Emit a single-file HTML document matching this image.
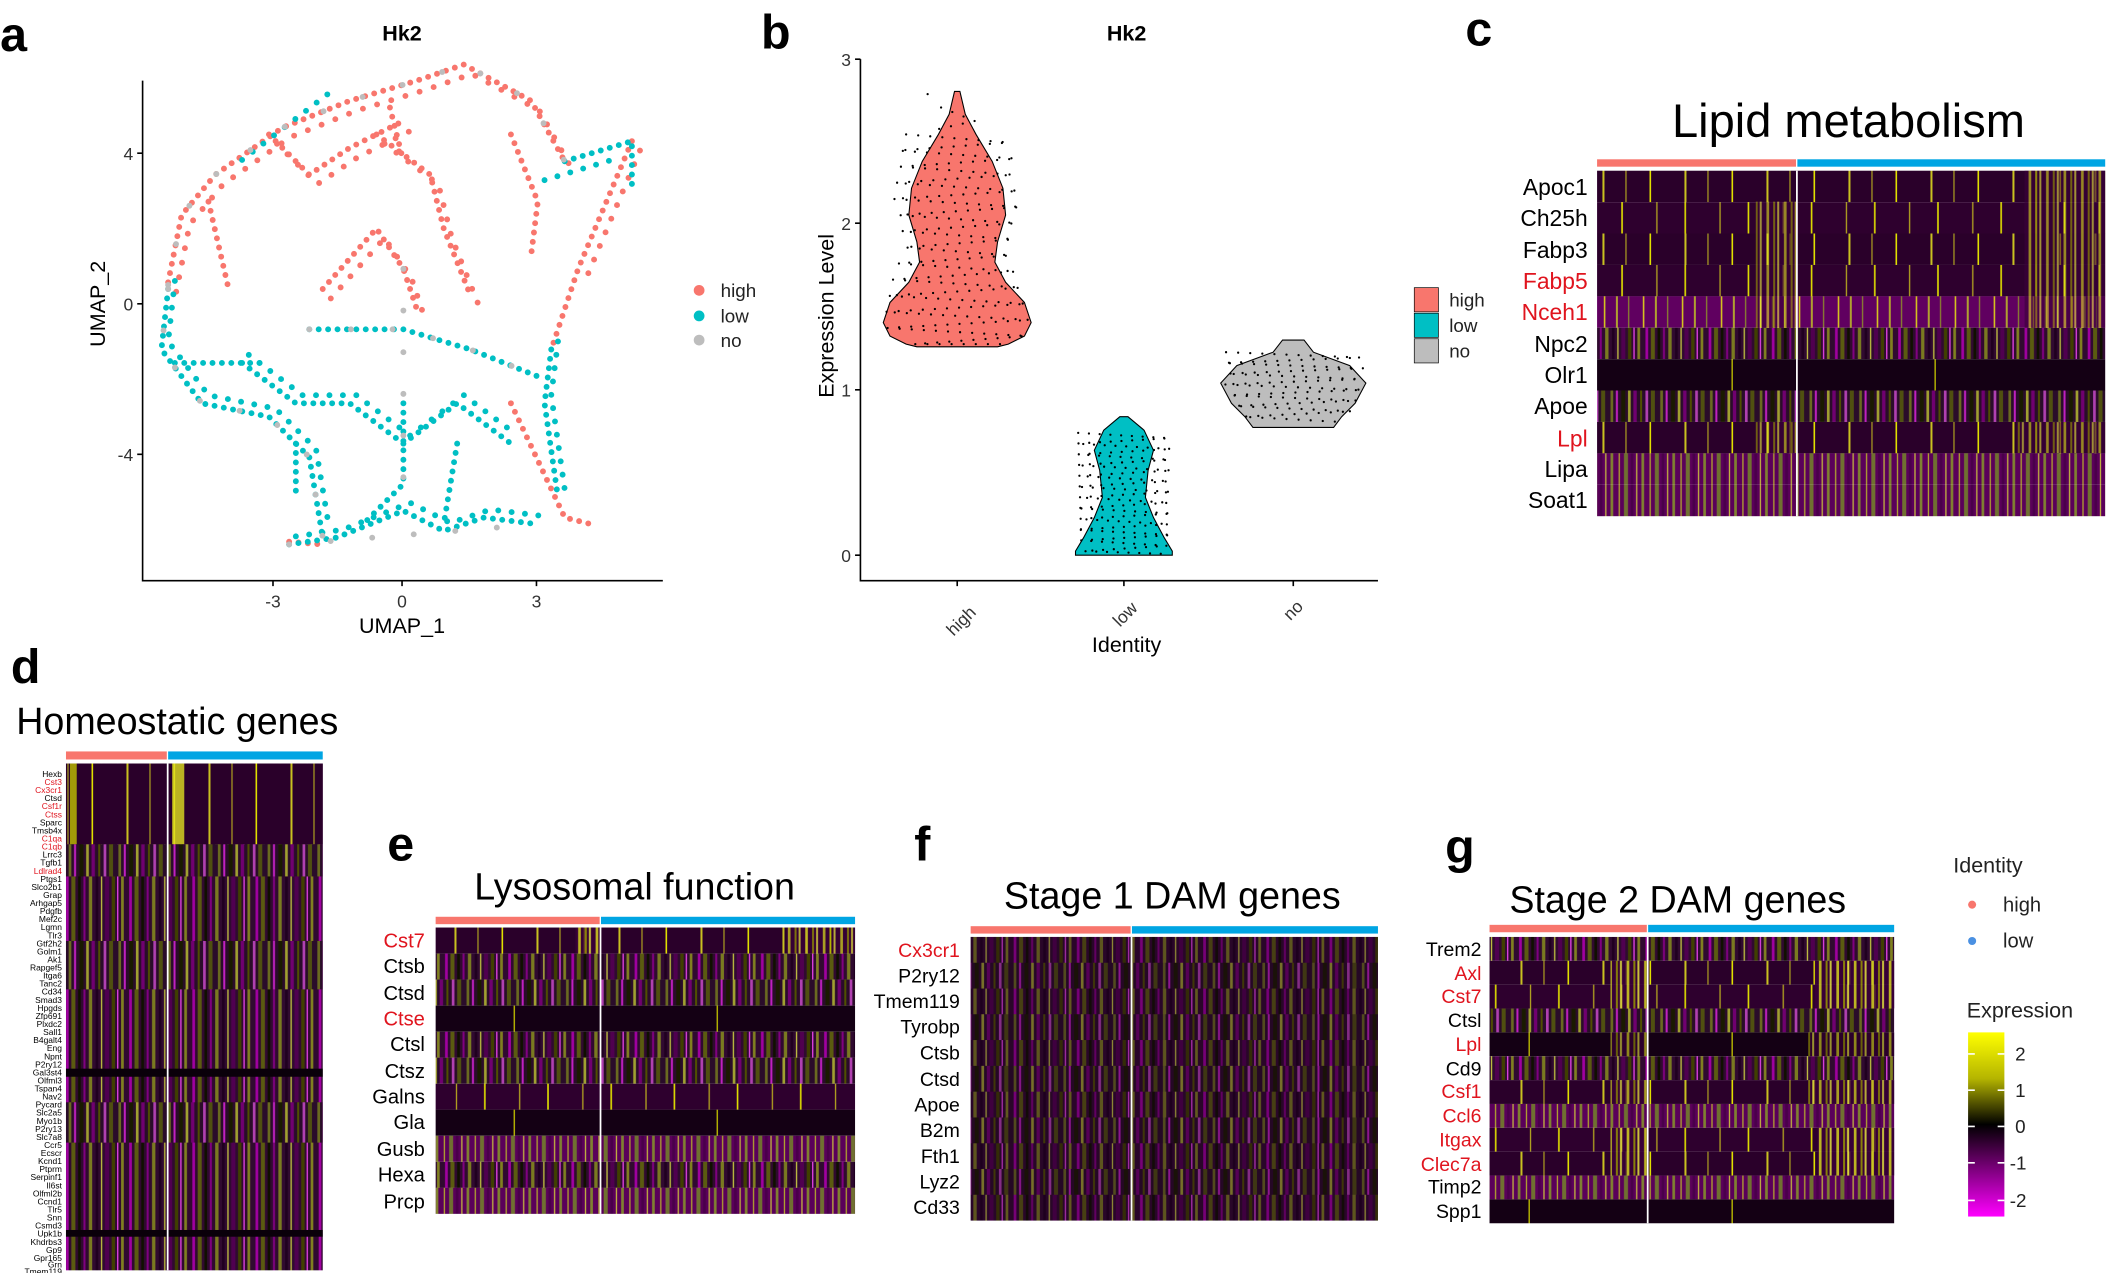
<!DOCTYPE html>
<html><head><meta charset="utf-8"><style>
html,body{margin:0;padding:0;background:#fff;}
svg{display:block;font-family:"Liberation Sans",Arial,sans-serif;}
</style></head><body>
<svg xmlns="http://www.w3.org/2000/svg" width="2108" height="1273" viewBox="0 0 1568 947">
<defs>
<pattern id="pd" patternUnits="userSpaceOnUse" width="61" height="10"><rect width="61" height="10" fill="#2a002a"/><rect x="7" width="1.2" height="10" fill="#e0e000"/><rect x="33" width="1.5" height="10" fill="#c8c020"/><rect x="50" width="1" height="10" fill="#a09020"/></pattern>
<pattern id="pd2" patternUnits="userSpaceOnUse" width="47" height="10" patternTransform="translate(19,0)"><rect width="47" height="10" fill="#2e002e"/><rect x="12" width="1.2" height="10" fill="#e0e000"/><rect x="38" width="1" height="10" fill="#b0a020"/></pattern>
<pattern id="pe" patternUnits="userSpaceOnUse" width="13" height="10"><rect width="13" height="10" fill="#3a003a"/><rect x="1" width="2" height="10" fill="#e0e020"/><rect x="6" width="1.5" height="10" fill="#a0a000"/><rect x="9" width="1.5" height="10" fill="#f0f040"/></pattern>
<pattern id="pm" patternUnits="userSpaceOnUse" width="47" height="10"><rect width="47" height="10" fill="#300a30"/><rect x="2" width="2" height="10" fill="#a000a0"/><rect x="6" width="3" height="10" fill="#5b5b10"/><rect x="11" width="2" height="10" fill="#101000"/><rect x="15" width="1.5" height="10" fill="#800080"/><rect x="19" width="2.5" height="10" fill="#7a7a20"/><rect x="24" width="2" height="10" fill="#200020"/><rect x="28" width="1" height="10" fill="#c0c040"/><rect x="31" width="3" height="10" fill="#500050"/><rect x="36" width="2.5" height="10" fill="#404000"/><rect x="40" width="1" height="10" fill="#e040e0"/><rect x="43" width="2" height="10" fill="#808020"/></pattern>
<pattern id="pm2" patternUnits="userSpaceOnUse" width="37" height="10" patternTransform="translate(13,0)"><rect width="37" height="10" fill="#2a0c2a"/><rect x="1" width="2" height="10" fill="#6a6a20"/><rect x="5" width="1.5" height="10" fill="#c020c0"/><rect x="9" width="3" height="10" fill="#1a1a00"/><rect x="14" width="2" height="10" fill="#a0a030"/><rect x="18" width="2.5" height="10" fill="#700070"/><rect x="23" width="1.5" height="10" fill="#505000"/><rect x="27" width="2" height="10" fill="#b040b0"/><rect x="31" width="3" height="10" fill="#505010"/></pattern>
<pattern id="pp" patternUnits="userSpaceOnUse" width="29" height="10"><rect width="29" height="10" fill="#600060"/><rect x="4" width="1.2" height="10" fill="#d4c020"/><rect x="13" width="1.5" height="10" fill="#b0a030"/><rect x="22" width="1" height="10" fill="#8a8030"/></pattern>
<pattern id="po" patternUnits="userSpaceOnUse" width="23" height="10"><rect width="23" height="10" fill="#5a005a"/><rect x="2" width="2" height="10" fill="#808030"/><rect x="8" width="1" height="10" fill="#b0a030"/><rect x="12" width="3" height="10" fill="#707030"/><rect x="17" width="2" height="10" fill="#4a004a"/><rect x="21" width="1" height="10" fill="#c0b040"/></pattern>
<pattern id="pk" patternUnits="userSpaceOnUse" width="151" height="10"><rect width="151" height="10" fill="#140014"/><rect x="80" width="1" height="10" fill="#c0c000"/></pattern>
<linearGradient id="gr" x1="0" y1="0" x2="0" y2="1">
<stop offset="0" stop-color="#ffff00"/><stop offset="0.25" stop-color="#b5b500"/><stop offset="0.5" stop-color="#000"/><stop offset="0.75" stop-color="#800080"/><stop offset="1" stop-color="#ff00ff"/></linearGradient>
</defs>
<rect width="1568" height="947" fill="#fff"/>

<!-- UMAP dots -->
<g fill="none" stroke-linecap="round" stroke-width="4.4">
<g stroke="#F8766D" stroke-dasharray="0 7">
<path d="M125,210 L135,160 L160,130 L210,95 L260,75 L310,60 L345,48 L395,75 L420,120 M280,100 L320,130 L330,170 L350,220 M240,215 L280,170 L300,200 L310,230 M200,100 L230,130 L260,110 L300,90 M470,105 L430,200 L410,260 M380,100 L400,150 L395,190 M155,150 L170,215 M380,300 L420,385 L440,390 M290,80 L300,120 M215,403 L240,405"/>
<path transform="translate(6,7)" stroke-dasharray="0 11" d="M125,210 L135,160 L160,130 L210,95 L260,75 L310,60 L345,48 L395,75 L420,120 M280,100 L320,130 L330,170 L350,220 M240,215 L280,170 L300,200 L310,230 M200,100 L230,130 L260,110 L300,90 M470,105 L430,200"/>
</g>
<g stroke="#00BFC4" stroke-dasharray="0 7">
<path d="M125,215 L120,260 L150,300 L200,310 L230,340 L240,400 M215,405 L250,400 L300,380 L330,395 L360,385 L400,390 M230,245 L300,245 L350,260 L400,280 M180,270 L220,300 L260,300 L300,330 L340,300 L380,330 M300,300 L300,360 L270,390 M420,120 L470,105 L470,140 M410,260 L405,300 L415,370 M130,270 L200,270 M220,330 L220,370 M340,330 L330,390"/>
<path transform="translate(5,-6)" stroke-dasharray="0 10" d="M125,215 L120,260 L150,300 L200,310 L230,340 L240,400 M215,405 L250,400 L300,380 L330,395 L360,385 L400,390 M180,270 L220,300 L260,300 L300,330 L340,300 L380,330 M410,260 L405,300 L415,370 M175,125 L240,75 M400,140 L450,125"/>
</g>
<g stroke="#bdbdbd" stroke-dasharray="0 31">
<path d="M125,212 L135,160 L160,130 L210,95 L260,75 L310,60 L345,48 L395,75 L420,120 M125,215 L120,260 L150,300 L200,310 L230,340 L240,400 M230,245 L300,245 L350,260 L400,280 M300,200 L300,360 M215,405 L400,390"/>
</g>
</g>

<!-- violins -->
<g stroke="#000" stroke-width="0.8">
<path fill="#F8766D" d="M710,68 L706,85 L698,100 L686,120 L678,140 L676,160 L682,180 L684,195 L676,210 L662,225 L657,240 L662,250 L674,256 L682,258 L742,258 L750,256 L762,250 L767,240 L762,225 L748,210 L740,195 L742,180 L748,160 L746,140 L738,120 L726,100 L718,85 L714,68 Z"/>
<path fill="#00BFC4" d="M833,310 L821,320 L814,335 L818,350 L820,370 L814,385 L806,400 L800,410 L800,413 L872,413 L872,410 L866,400 L858,385 L852,370 L854,350 L858,335 L851,320 L839,310 Z"/>
<path fill="#bdbdbd" d="M954,253 L947,262 L920,272 L908,285 L916,300 L926,310 L932,318 L992,318 L998,310 L1008,300 L1016,285 L1004,272 L977,262 L970,253 Z"/>
</g>
<g fill="none" stroke="#000" stroke-width="1.7" stroke-linecap="round">
<path stroke-dasharray="0 9" d="M674,100 L750,106 L668,112 L756,118 L670,124 L754,130 L666,136 L758,142 L664,148 L760,154 L668,160 L756,166 L670,172 L754,178 L672,184 L752,190 L668,196 L756,202 L664,208 L760,214 L660,220 L764,226 L658,232 L766,238 L660,244 L764,250 L680,256 L744,256"/>
<path stroke-dasharray="0 9" d="M700,80 L725,90 L698,96 M690,70 L695,72"/>
<path stroke-dasharray="0 8" d="M802,322 L870,326 L800,330 L872,334 L802,338 L870,342 L800,346 L872,350 L802,354 L870,358 L800,362 L872,366 L802,370 L870,374 L800,378 L872,382 L802,386 L870,390 L800,394 L872,398 L804,402 L868,406 L806,410 L866,412"/>
<path stroke-dasharray="0 9" d="M912,262 L1012,266 L910,270 L1014,274 L912,278 L1012,282 L910,286 L1014,290 L914,294 L1010,298 L918,302 L1006,306 L924,310 L1000,314"/>
</g>

<!-- axes -->
<g stroke="#000" stroke-width="1.2" fill="none">
<path d="M106,60 V432 H493"/>
<path d="M102,114 H106 M102,226 H106 M102,338 H106 M203,432 V436 M299,432 V436 M399,432 V436"/>
<path d="M640,44 V432 H1025"/>
<path d="M636,44 H640 M636,166 H640 M636,290 H640 M636,413 H640 M712,432 V436 M836,432 V436 M962,432 V436"/>
</g>
<g font-size="13" fill="#333">
<text x="99" y="119" text-anchor="end">4</text><text x="99" y="231" text-anchor="end">0</text><text x="99" y="343" text-anchor="end">-4</text>
<text x="203" y="452" text-anchor="middle">-3</text><text x="299" y="452" text-anchor="middle">0</text><text x="399" y="452" text-anchor="middle">3</text>
<text x="633" y="49" text-anchor="end">3</text><text x="633" y="171" text-anchor="end">2</text><text x="633" y="295" text-anchor="end">1</text><text x="633" y="418" text-anchor="end">0</text>
<text transform="translate(718,465) rotate(-45)" text-anchor="middle">high</text>
<text transform="translate(840,460) rotate(-45)" text-anchor="middle">low</text>
<text transform="translate(965,457) rotate(-45)" text-anchor="middle">no</text>
</g>
<g font-size="16" fill="#000">
<text x="299" y="471" text-anchor="middle">UMAP_1</text>
<text transform="translate(78,226) rotate(-90)" text-anchor="middle">UMAP_2</text>
<text x="838" y="485" text-anchor="middle">Identity</text>
<text transform="translate(620,235) rotate(-90)" text-anchor="middle">Expression Level</text>
</g>
<g font-size="16" font-weight="bold"><text x="299" y="30" text-anchor="middle">Hk2</text><text x="838" y="30" text-anchor="middle">Hk2</text></g>
<g font-weight="bold" font-size="36" fill="#000">
<text x="0" y="38">a</text><text x="566" y="36">b</text><text x="1090" y="34">c</text>
<text x="8" y="508">d</text><text x="288" y="640">e</text><text x="680" y="640">f</text><text x="1075" y="642">g</text>
</g>
<g font-size="14" fill="#222">
<circle cx="520" cy="216" r="4" fill="#F8766D"/><text x="536" y="221">high</text>
<circle cx="520" cy="235" r="4" fill="#00BFC4"/><text x="536" y="240">low</text>
<circle cx="520" cy="253" r="4" fill="#bdbdbd"/><text x="536" y="258">no</text>
<rect x="1052" y="214" width="18" height="18" fill="#F8766D" stroke="#000" stroke-width="0.5"/><text x="1078" y="228">high</text>
<rect x="1052" y="233" width="18" height="18" fill="#00BFC4" stroke="#000" stroke-width="0.5"/><text x="1078" y="247">low</text>
<rect x="1052" y="252" width="18" height="18" fill="#bdbdbd" stroke="#000" stroke-width="0.5"/><text x="1078" y="266">no</text>
</g>
<g fill="#000">
<text x="1375" y="102" font-size="35" text-anchor="middle">Lipid metabolism</text>
<text x="12" y="546" font-size="28">Homeostatic genes</text>
<text x="472" y="669" font-size="28" text-anchor="middle">Lysosomal function</text>
<text x="872" y="676" font-size="28" text-anchor="middle">Stage 1 DAM genes</text>
<text x="1248" y="679" font-size="28" text-anchor="middle">Stage 2 DAM genes</text>
</g>

<!-- Heatmap c -->
<rect x="1188" y="118.5" width="148" height="5.5" fill="#F8766D"/><rect x="1337" y="118.5" width="229" height="5.5" fill="#00A5E3"/>
<g>
<rect x="1188" y="127" width="378" height="23.4" fill="url(#pd)"/>
<rect x="1188" y="150.4" width="378" height="23.4" fill="url(#pd2)"/>
<rect x="1188" y="173.7" width="378" height="23.4" fill="url(#pd)"/>
<rect x="1188" y="197.1" width="378" height="23.4" fill="url(#pd2)"/>
<rect x="1188" y="220.4" width="378" height="23.4" fill="url(#pp)"/>
<rect x="1188" y="243.8" width="378" height="23.4" fill="url(#pm)"/>
<rect x="1188" y="267.2" width="378" height="23.4" fill="url(#pk)"/>
<rect x="1188" y="290.5" width="378" height="23.4" fill="url(#pm2)"/>
<rect x="1188" y="313.9" width="378" height="23.4" fill="url(#pd)"/>
<rect x="1188" y="337.2" width="378" height="23.4" fill="url(#po)"/>
<rect x="1188" y="360.6" width="378" height="23.4" fill="url(#po)"/>
<rect x="1306" y="150" width="30" height="94" fill="url(#pe)" opacity="0.6"/>
<rect x="1506" y="127" width="60" height="117" fill="url(#pe)" opacity="0.6"/>
<rect x="1306" y="314" width="30" height="23" fill="url(#pe)" opacity="0.6"/>
<rect x="1500" y="314" width="66" height="23" fill="url(#pe)" opacity="0.6"/>
<rect x="1336" y="127" width="1.3" height="257" fill="#fff"/>
</g>
<g font-size="17" text-anchor="end" fill="#000">
<text x="1181" y="145">Apoc1</text><text x="1181" y="168">Ch25h</text><text x="1181" y="192">Fabp3</text><text x="1181" y="215" fill="#e0141e">Fabp5</text><text x="1181" y="238" fill="#e0141e">Nceh1</text><text x="1181" y="262">Npc2</text><text x="1181" y="285">Olr1</text><text x="1181" y="308">Apoe</text><text x="1181" y="332" fill="#e0141e">Lpl</text><text x="1181" y="355">Lipa</text><text x="1181" y="378">Soat1</text>
</g>

<!-- Heatmap e -->
<rect x="324" y="682" width="122" height="5.5" fill="#F8766D"/><rect x="447" y="682" width="189" height="5.5" fill="#00A5E3"/>
<rect x="324" y="690" width="312" height="19.4" fill="url(#pd)"/>
<rect x="324" y="709.4" width="312" height="19.4" fill="url(#pm)"/>
<rect x="324" y="728.7" width="312" height="19.4" fill="url(#pm2)"/>
<rect x="324" y="748.1" width="312" height="19.4" fill="url(#pk)"/>
<rect x="324" y="767.5" width="312" height="19.4" fill="url(#pm)"/>
<rect x="324" y="786.8" width="312" height="19.4" fill="url(#pm2)"/>
<rect x="324" y="806.2" width="312" height="19.4" fill="url(#pd2)"/>
<rect x="324" y="825.5" width="312" height="19.4" fill="url(#pk)"/>
<rect x="324" y="844.9" width="312" height="19.4" fill="url(#po)"/>
<rect x="324" y="864.3" width="312" height="19.4" fill="url(#pm)"/>
<rect x="324" y="883.6" width="312" height="19.4" fill="url(#po)"/>
<rect x="428" y="690" width="18" height="19.4" fill="url(#pe)" opacity="0.8"/><rect x="585" y="690" width="51" height="19.4" fill="url(#pe)" opacity="0.7"/>
<rect x="446" y="690" width="1.3" height="213" fill="#fff"/>
<g font-size="15" text-anchor="end" fill="#000">
<text x="316" y="705" fill="#e0141e">Cst7</text><text x="316" y="724">Ctsb</text><text x="316" y="744">Ctsd</text><text x="316" y="763" fill="#e0141e">Ctse</text><text x="316" y="782">Ctsl</text><text x="316" y="802">Ctsz</text><text x="316" y="821">Galns</text><text x="316" y="840">Gla</text><text x="316" y="860">Gusb</text><text x="316" y="879">Hexa</text><text x="316" y="899">Prcp</text>
</g>

<!-- Heatmap f -->
<rect x="722" y="689" width="119" height="5.5" fill="#F8766D"/><rect x="842" y="689" width="183" height="5.5" fill="#00A5E3"/>
<rect x="722" y="697" width="303" height="211" fill="url(#pm)"/>
<rect x="722" y="716.2" width="303" height="19.2" fill="url(#pm2)"/>
<rect x="722" y="754.5" width="303" height="19.2" fill="url(#pm2)"/>
<rect x="722" y="792.9" width="303" height="19.2" fill="url(#pm2)"/>
<rect x="722" y="831.3" width="303" height="19.2" fill="url(#pm2)"/>
<rect x="722" y="869.6" width="303" height="19.2" fill="url(#pm2)"/>
<rect x="722" y="697" width="303" height="211" fill="#1a001a" opacity="0.3"/>
<rect x="841" y="697" width="1.3" height="211" fill="#fff"/>
<g font-size="14.5" text-anchor="end" fill="#000">
<text x="714" y="712" fill="#e0141e">Cx3cr1</text><text x="714" y="731">P2ry12</text><text x="714" y="750">Tmem119</text><text x="714" y="769">Tyrobp</text><text x="714" y="788">Ctsb</text><text x="714" y="808">Ctsd</text><text x="714" y="827">Apoe</text><text x="714" y="846">B2m</text><text x="714" y="865">Fth1</text><text x="714" y="884">Lyz2</text><text x="714" y="903">Cd33</text>
</g>

<!-- Heatmap g -->
<rect x="1108" y="688" width="117" height="5.5" fill="#F8766D"/><rect x="1226" y="688" width="183" height="5.5" fill="#00A5E3"/>
<rect x="1108" y="697" width="301" height="17.75" fill="url(#pm)"/>
<rect x="1108" y="714.75" width="301" height="17.75" fill="url(#pd)"/>
<rect x="1108" y="732.5" width="301" height="17.75" fill="url(#pd2)"/>
<rect x="1108" y="750.25" width="301" height="17.75" fill="url(#pm2)"/>
<rect x="1108" y="768" width="301" height="17.75" fill="url(#pk)"/>
<rect x="1108" y="785.75" width="301" height="17.75" fill="url(#pm)"/>
<rect x="1108" y="803.5" width="301" height="17.75" fill="url(#pd)"/>
<rect x="1108" y="821.25" width="301" height="17.75" fill="url(#po)"/>
<rect x="1108" y="839" width="301" height="17.75" fill="url(#pd2)"/>
<rect x="1108" y="856.75" width="301" height="17.75" fill="url(#pd)"/>
<rect x="1108" y="874.5" width="301" height="17.75" fill="url(#po)"/>
<rect x="1108" y="892.25" width="301" height="17.75" fill="url(#pk)"/>
<rect x="1198" y="714.75" width="27" height="35.5" fill="url(#pe)" opacity="0.8"/><rect x="1350" y="714.75" width="59" height="35.5" fill="url(#pe)" opacity="0.8"/>
<rect x="1198" y="768" width="27" height="17.75" fill="url(#pe)" opacity="0.6"/><rect x="1345" y="768" width="64" height="17.75" fill="url(#pe)" opacity="0.6"/>
<rect x="1198" y="803.5" width="27" height="17.75" fill="url(#pe)" opacity="0.7"/><rect x="1345" y="803.5" width="64" height="17.75" fill="url(#pe)" opacity="0.7"/>
<rect x="1198" y="839" width="27" height="35.5" fill="url(#pe)" opacity="0.8"/><rect x="1352" y="839" width="57" height="35.5" fill="url(#pe)" opacity="0.8"/>
<rect x="1225" y="697" width="1.3" height="213" fill="#fff"/>
<g font-size="14.5" text-anchor="end" fill="#000">
<text x="1102" y="711">Trem2</text><text x="1102" y="729" fill="#e0141e">Axl</text><text x="1102" y="746" fill="#e0141e">Cst7</text><text x="1102" y="764">Ctsl</text><text x="1102" y="782" fill="#e0141e">Lpl</text><text x="1102" y="800">Cd9</text><text x="1102" y="817" fill="#e0141e">Csf1</text><text x="1102" y="835" fill="#e0141e">Ccl6</text><text x="1102" y="853" fill="#e0141e">Itgax</text><text x="1102" y="871" fill="#e0141e">Clec7a</text><text x="1102" y="888">Timp2</text><text x="1102" y="906">Spp1</text>
</g>

<!-- Heatmap d -->
<rect x="49" y="559" width="75" height="6" fill="#F8766D"/><rect x="125" y="559" width="115" height="6" fill="#00A5E3"/>
<rect x="49" y="568" width="191" height="377" fill="url(#pm)"/>
<rect x="49" y="628" width="191" height="24" fill="url(#pm2)"/>
<rect x="49" y="700" width="191" height="36" fill="url(#pm2)"/>
<rect x="49" y="820" width="191" height="30" fill="url(#pm2)"/>
<rect x="49" y="568" width="191" height="60" fill="url(#pd)"/>
<rect x="52" y="568" width="5" height="60" fill="#c0c000" opacity="0.8"/>
<rect x="128" y="568" width="9" height="60" fill="#e0e020" opacity="0.8"/>
<rect x="49" y="795" width="191" height="6" fill="#0a000a"/>
<rect x="49" y="915" width="191" height="5" fill="#0a000a"/>
<rect x="124" y="568" width="1.3" height="377" fill="#fff"/>
<g font-size="6.3" text-anchor="end" fill="#000">
<text x="46" y="578">Hexb</text><text x="46" y="584" fill="#e0141e">Cst3</text><text x="46" y="590" fill="#e0141e">Cx3cr1</text><text x="46" y="596">Ctsd</text><text x="46" y="602" fill="#e0141e">Csf1r</text><text x="46" y="608" fill="#e0141e">Ctss</text><text x="46" y="614">Sparc</text><text x="46" y="620">Tmsb4x</text><text x="46" y="626" fill="#e0141e">C1qa</text><text x="46" y="632" fill="#e0141e">C1qb</text>
<text x="46" y="638">Lrrc3</text><text x="46" y="644">Tgfb1</text><text x="46" y="650" fill="#e0141e">Ldlrad4</text><text x="46" y="656">Ptgs1</text><text x="46" y="662">Slco2b1</text><text x="46" y="668">Grap</text><text x="46" y="674">Arhgap5</text><text x="46" y="680">Pdgfb</text><text x="46" y="686">Mef2c</text><text x="46" y="692">Lgmn</text>
<text x="46" y="698">Tlr3</text><text x="46" y="704">Gtf2h2</text><text x="46" y="710">Golm1</text><text x="46" y="716">Ak1</text><text x="46" y="722">Rapgef5</text><text x="46" y="728">Itga6</text><text x="46" y="734">Tanc2</text><text x="46" y="740">Cd34</text><text x="46" y="746">Smad3</text><text x="46" y="752">Hpgds</text>
<text x="46" y="758">Zfp691</text><text x="46" y="764">Plxdc2</text><text x="46" y="770">Sall1</text><text x="46" y="776">B4galt4</text><text x="46" y="782">Eng</text><text x="46" y="788">Npnt</text><text x="46" y="794">P2ry12</text><text x="46" y="800">Gal3st4</text><text x="46" y="806">Olfml3</text><text x="46" y="812">Tspan4</text>
<text x="46" y="818">Nav2</text><text x="46" y="824">Pycard</text><text x="46" y="830">Slc2a5</text><text x="46" y="836">Myo1b</text><text x="46" y="842">P2ry13</text><text x="46" y="848">Slc7a8</text><text x="46" y="854">Ccr5</text><text x="46" y="860">Ecscr</text><text x="46" y="866">Kcnd1</text><text x="46" y="872">Ptprm</text>
<text x="46" y="878">Serpinf1</text><text x="46" y="884">Il6st</text><text x="46" y="890">Olfml2b</text><text x="46" y="896">Ccnd1</text><text x="46" y="902">Tlr5</text><text x="46" y="908">Snn</text><text x="46" y="914">Csmd3</text><text x="46" y="920">Upk1b</text><text x="46" y="926">Khdrbs3</text><text x="46" y="932">Gp9</text>
<text x="46" y="938">Gpr165</text><text x="46" y="943">Grn</text><text x="46" y="948">Tmem119</text>
</g>

<!-- right legend -->
<g font-size="16" fill="#222">
<text x="1453" y="649">Identity</text>
<circle cx="1467" cy="673" r="3" fill="#F8766D"/><text x="1490" y="678" font-size="15">high</text>
<circle cx="1467" cy="700" r="3" fill="#4a90e2"/><text x="1490" y="705" font-size="15">low</text>
<text x="1463" y="757">Expression</text>
<rect x="1464" y="768" width="27" height="137" fill="url(#gr)"/>
<path stroke="#fff" stroke-width="1.2" d="M1464,784h5M1486,784h5M1464,811h5M1486,811h5M1464,838h5M1486,838h5M1464,865h5M1486,865h5M1464,893h5M1486,893h5"/>
<g font-size="14"><text x="1499" y="789">2</text><text x="1499" y="816">1</text><text x="1499" y="843">0</text><text x="1495" y="870">-1</text><text x="1495" y="898">-2</text></g>
</g>
</svg>
</body></html>
